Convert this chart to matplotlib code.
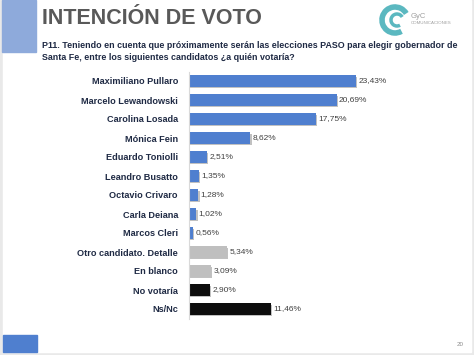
import matplotlib.pyplot as plt
import matplotlib.patheffects as pe
from matplotlib.patches import Rectangle, Arc

candidates = ["Maximiliano Pullaro", "Marcelo Lewandowski", "Carolina Losada", "Mónica Fein",
              "Eduardo Toniolli", "Leandro Busatto", "Octavio Crivaro", "Carla Deiana",
              "Marcos Cleri", "Otro candidato. Detalle", "En blanco", "No votaría", "Ns/Nc"]
values = [23.43, 20.69, 17.75, 8.62, 2.51, 1.35, 1.28, 1.02, 0.56, 5.34, 3.09, 2.90, 11.46]
groups = ["cand"] * 9 + ["otro", "otro", "no", "no"]

colors = {"cand": "#4f7fcf", "otro": "#bfbfbf", "no": "#0d0d0d"}
W, H = 474, 355

plt.rcParams["font.family"] = ["Liberation Sans", "DejaVu Sans"]
fig = plt.figure(figsize=(W / 100, H / 100), dpi=100)
fig.patch.set_facecolor("#e9e9e9")


def px(x0, y0, w, h):
    # pixel box (top-left origin) -> figure fraction
    return [x0 / W, 1 - (y0 + h) / H, w / W, h / H]


# slide background and decorations
bg = fig.add_axes([0, 0, 1, 1])
bg.set_xlim(0, W)
bg.set_ylim(H, 0)
bg.axis("off")
bg.add_patch(Rectangle((3, 0), 468, 352, color="white"))
bg.add_patch(Rectangle((2, 0), 34, 52, color="#8eaadb"))
bg.add_patch(Rectangle((3, 335), 34, 17, color="#4f7fcf"))

bg.text(42, 19, "INTENCIÓN DE VOTO", fontsize=15.5, fontweight="bold",
        color="#595959", va="center", ha="left")
bg.text(42, 45, "P11. Teniendo en cuenta que próximamente serán las elecciones PASO para elegir gobernador de",
        fontsize=6.4, fontweight="bold", color="#1f2a44", va="center", ha="left")
bg.text(42, 57, "Santa Fe, entre los siguientes candidatos ¿a quién votaría?",
        fontsize=6.4, fontweight="bold", color="#1f2a44", va="center", ha="left")

# logo
bg.add_patch(Arc((395, 20), 26, 26, theta1=60, theta2=330, color="#5bb8c0", lw=4))
bg.add_patch(Arc((397, 20), 12, 12, theta1=60, theta2=330, color="#5bb8c0", lw=2.5))
bg.text(411, 16, "GyC", fontsize=5.5, color="#a0a0a0", va="center")
bg.text(411, 23, "COMUNICACIONES", fontsize=3.2, color="#a0a0a0", va="center")
bg.text(460, 345, "20", fontsize=4.5, color="#8c8c8c", ha="center", va="center")

# chart
ax = fig.add_axes(px(189, 71.5, 271, 247))
ax.set_xlim(0, 38)
ax.set_ylim(len(values) - 0.5, -0.5)
ypos = list(range(len(values)))
bars = ax.barh(ypos, values, height=0.58, color=[colors[g] for g in groups])
for b in bars:
    b.set_path_effects([pe.SimplePatchShadow(offset=(1, -1), shadow_rgbFace="#999999", alpha=0.6),
                        pe.Normal()])
for y, v in zip(ypos, values):
    ax.text(v + 0.35, y, f"{v:.2f}%".replace(".", ","), fontsize=6, color="#404040",
            va="center", ha="left")
ax.set_yticks(ypos)
ax.set_yticklabels(candidates, fontsize=6.6, fontweight="bold", color="#1f2a44")
ax.tick_params(axis="y", length=0, pad=8)
ax.set_xticks([])
for s in ["top", "right", "bottom"]:
    ax.spines[s].set_visible(False)
ax.spines["left"].set_color("#d9d9d9")
ax.patch.set_alpha(0)

fig.savefig("out.png", dpi=100)
